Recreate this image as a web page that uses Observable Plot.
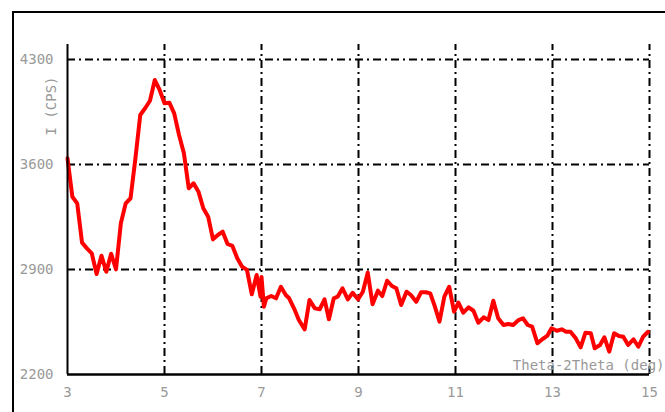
<!DOCTYPE html>
<html>
<head>
<meta charset="utf-8">
<script src="https://cdn.jsdelivr.net/npm/d3@7"></script>
<script src="https://cdn.jsdelivr.net/npm/@observablehq/plot@0.6"></script>
<style>
  html, body { margin: 0; padding: 0; background: #fff; overflow: hidden; }
  #wrap { position: relative; width: 665px; height: 412px; overflow: hidden; }
  #border { position: absolute; left: 12px; top: 11px; width: 800px; height: 600px;
            border: 2px solid #000; box-sizing: border-box; }
  #chart { position: absolute; left: 0; top: 0; }
</style>
</head>
<body>
<div id="wrap"><div id="border"></div><div id="chart"></div></div>
<script>
const theta = [3.0,3.1,3.2,3.3,3.4,3.5,3.6,3.7,3.8,3.9,4.0,4.1,4.2,4.3,4.4,4.5,4.6,4.7,4.8,4.9,
  5.0,5.1,5.2,5.3,5.4,5.5,5.6,5.7,5.8,5.9,6.0,6.1,6.2,6.3,6.4,6.5,6.6,6.7,6.8,6.9,6.98,7.0,7.05,
  7.1,7.2,7.3,7.4,7.5,7.57,7.67,7.77,7.89,7.99,8.1,8.2,8.3,8.39,8.49,8.57,8.67,8.78,8.88,8.99,
  9.09,9.19,9.29,9.4,9.49,9.59,9.69,9.78,9.88,9.99,10.08,10.19,10.29,10.39,10.48,10.57,10.67,
  10.77,10.87,10.97,11.06,11.16,11.27,11.37,11.47,11.58,11.68,11.78,11.88,11.99,12.09,12.19,
  12.3,12.39,12.49,12.58,12.69,12.79,12.89,12.98,13.09,13.19,13.28,13.37,13.48,13.58,13.68,
  13.79,13.87,13.98,14.07,14.17,14.27,14.37,14.46,14.56,14.67,14.77,14.87,14.97];
const cps = [3641,3385,3341,3079,3041,3008,2870,2992,2885,3005,2901,3208,3341,3375,3640,3930,3975,4025,4163,4097,
  4008,4012,3941,3797,3675,3441,3475,3419,3308,3252,3101,3130,3152,3070,3057,2975,2919,2897,2735,2863,2719,2850,2652,
  2708,2723,2708,2785,2730,2708,2641,2563,2501,2697,2641,2635,2701,2568,2708,2719,2775,2701,2745,2701,
  2752,2879,2668,2759,2723,2825,2790,2775,2663,2752,2730,2685,2748,2748,2741,2657,2552,
  2719,2785,2619,2679,2612,2648,2625,2545,2581,2563,2692,2575,2530,2537,2530,
  2563,2575,2530,2519,2408,2435,2457,2508,2492,2501,2485,2485,2441,2381,2479,
  2475,2375,2397,2448,2352,2475,2457,2452,2397,2435,2385,2452,2485];
const xTicks = [3,5,7,9,11,13,15];
const yTicks = [2200,2900,3600,4300];
const xGrid = [5,7,9,11,13,15];
const yGrid = [2900,3600,4300];
const xLabel = "Theta-2Theta (deg)";
const yLabel = "I (CPS)";

const data = theta.map((t, i) => ({theta: t, cps: cps[i]}));
const gray = "#999999";
const dash = "8,4,2,4";

const chart = Plot.plot({
  width: 665,
  height: 412,
  marginLeft: 67,
  marginRight: 16,
  marginTop: 44,
  marginBottom: 38,
  style: {fontFamily: "'DejaVu Sans Mono', monospace", fontSize: "14px", background: "transparent"},
  x: {domain: [3, 15]},
  y: {domain: [2200, 4400]},
  marks: [
    Plot.ruleX(xGrid, {y1: 2200, y2: 4400, stroke: "#000", strokeWidth: 2, strokeDasharray: dash}),
    Plot.ruleY(yGrid, {x1: 3, x2: 15, stroke: "#000", strokeWidth: 2, strokeDasharray: dash}),
    Plot.axisX({ticks: xTicks, tickFormat: d => String(d), tickSize: 0, tickPadding: 13, fill: gray, label: null, fontSize: 14}),
    Plot.axisY({ticks: yTicks, tickFormat: d => String(d), tickSize: 0, tickPadding: 14, fill: gray, label: null, fontSize: 14}),
    Plot.text([xLabel], {frameAnchor: "bottom-right", textAnchor: "end", lineAnchor: "bottom",
      dx: 15, dy: -5, fill: gray, fontSize: 14}),
    Plot.text([yLabel], {frameAnchor: "top-left", textAnchor: "start", lineAnchor: "bottom",
      rotate: -90, dx: -12, dy: 91, fill: gray, fontSize: 14}),
    Plot.line(data, {x: "theta", y: "cps", stroke: "#ff0000", strokeWidth: 4, strokeLinejoin: "round"}),
    Plot.ruleX([3], {y1: 2200, y2: 4400, stroke: "#000", strokeWidth: 2}),
    Plot.ruleY([2200], {x1: 3, x2: 15, stroke: "#000", strokeWidth: 2.5})
  ]
});
document.getElementById("chart").appendChild(chart);
</script>
</body>
</html>
